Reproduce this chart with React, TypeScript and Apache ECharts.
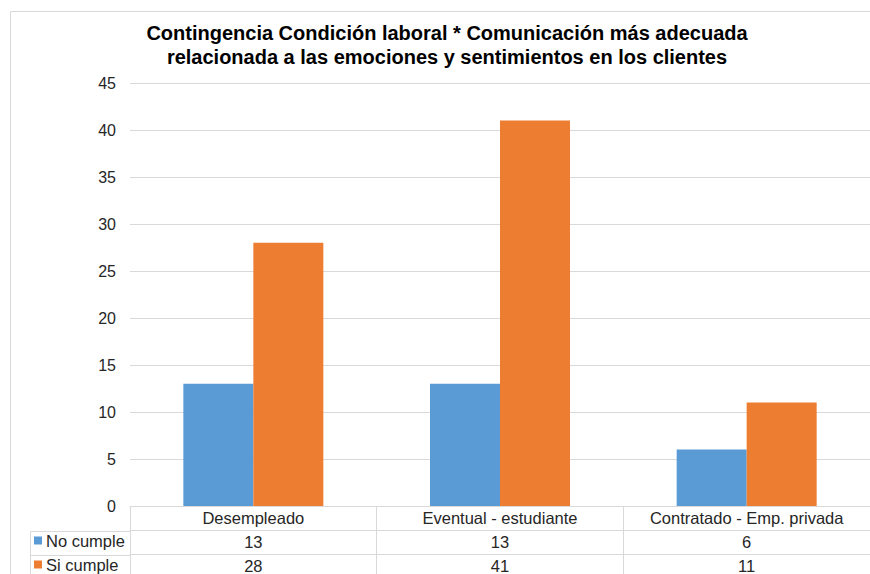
import React, { useEffect, useRef } from "react";
import * as echarts from "echarts";

const categories = ["Desempleado", "Eventual - estudiante", "Contratado - Emp. privada"];
const seriesNames = ["No cumple", "Si cumple"];
const noCumple = [13, 13, 6];
const siCumple = [28, 41, 11];
const yTicks = { min: 0, max: 45, interval: 5 };
const titleLines = [
  "Contingencia Condición laboral * Comunicación más adecuada",
  "relacionada a las emociones y sentimientos en los clientes",
];

const colors = ["#5B9BD5", "#ED7D31"];
const lineColor = "#d9d9d9";
const textColor = "#262626";
const fontFamily = "'Liberation Sans', Arial, sans-serif";

const GRID = { left: 130, right: 0, top: 83, bottom: 67 };
const ROW = 24;
const FS = 16.5;

// one category axis per row of the data table under the plot
function tableAxis(data: (string | number)[], offset: number) {
  return {
    type: "category",
    data: data.map(String),
    position: "bottom",
    offset,
    gridIndex: 0,
    axisLine: { show: true, lineStyle: { color: lineColor, width: 1 } },
    axisTick: {
      show: true,
      alignWithLabel: false,
      interval: 0,
      length: ROW,
      lineStyle: { color: lineColor, width: 1 },
    },
    axisLabel: {
      show: true,
      interval: 0,
      margin: 3,
      color: textColor,
      fontSize: FS,
      fontFamily,
    },
    splitLine: { show: false },
  };
}

export default function App() {
  const ref = useRef<HTMLDivElement>(null);

  useEffect(() => {
    if (!ref.current) return;
    const chart = echarts.init(ref.current, undefined, { renderer: "svg" });
    const W = 870;
    const H = 574;
    const tableTop = H - GRID.bottom;

    chart.setOption({
      animation: false,
      backgroundColor: "#ffffff",
      textStyle: { fontFamily },
      title: {
        text: titleLines.join("\n"),
        left: 447,
        textAlign: "center",
        top: 21,
        padding: 0,
        textStyle: {
          fontSize: 20,
          fontWeight: "bold",
          color: "#000000",
          fontFamily,
          lineHeight: 24,
        },
      },
      legend: {
        data: seriesNames,
        orient: "vertical",
        left: 34,
        top: tableTop + ROW + 1,
        height: 60,
        padding: 0,
        itemGap: 7,
        itemWidth: 8,
        itemHeight: 8,
        icon: "rect",
        selectedMode: false,
        textStyle: {
          fontSize: FS,
          color: textColor,
          fontFamily,
          lineHeight: 17,
          padding: [0, 0, 0, -1],
        },
      },
      grid: { ...GRID, containLabel: false },
      xAxis: [
        tableAxis(categories, 0),
        tableAxis(noCumple, ROW),
        tableAxis(siCumple, ROW * 2),
      ],
      yAxis: {
        type: "value",
        min: yTicks.min,
        max: yTicks.max,
        interval: yTicks.interval,
        axisLine: { show: false },
        axisTick: { show: false },
        axisLabel: { margin: 14, color: textColor, fontSize: 16, fontFamily },
        splitLine: { lineStyle: { color: lineColor, width: 1 } },
      },
      series: [
        {
          name: seriesNames[0],
          type: "bar",
          xAxisIndex: 0,
          data: noCumple,
          barWidth: 70,
          barGap: "0%",
          itemStyle: { color: colors[0] },
        },
        {
          name: seriesNames[1],
          type: "bar",
          xAxisIndex: 0,
          data: siCumple,
          barWidth: 70,
          barGap: "0%",
          itemStyle: { color: colors[1] },
        },
      ],
      graphic: [
        // outer chart frame
        {
          type: "polyline",
          silent: true,
          shape: { points: [[10.5, H], [10.5, 11.5], [W, 11.5]] },
          style: { stroke: lineColor, lineWidth: 1, fill: "none" },
        },
        // legend column of the data table
        {
          type: "polyline",
          silent: true,
          shape: {
            points: [
              [GRID.left, tableTop + ROW + 0.5],
              [30.5, tableTop + ROW + 0.5],
              [30.5, H],
            ],
          },
          style: { stroke: lineColor, lineWidth: 1, fill: "none" },
        },
        {
          type: "line",
          silent: true,
          shape: { x1: 30.5, y1: tableTop + ROW * 2 + 0.5, x2: GRID.left, y2: tableTop + ROW * 2 + 0.5 },
          style: { stroke: lineColor, lineWidth: 1 },
        },
      ],
    });

    return () => chart.dispose();
  }, []);

  return (
    <div
      ref={ref}
      style={{ position: "fixed", left: 0, top: 0, width: 870, height: 574, background: "#fff" }}
    />
  );
}
